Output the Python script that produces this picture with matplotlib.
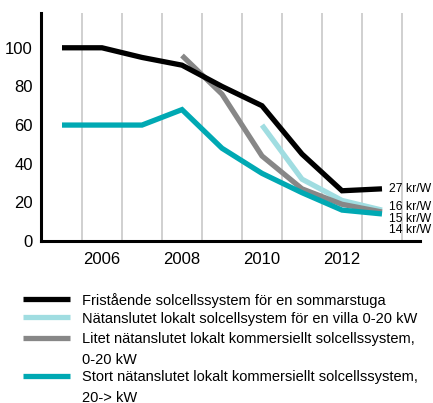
import numpy as np
import matplotlib.pyplot as plt
from matplotlib.lines import Line2D

plt.rcParams['font.family'] = ['Liberation Sans', 'DejaVu Sans']

# prices in kr/W per year
years_fri = [2005, 2006, 2007, 2008, 2009, 2010, 2011, 2012, 2013]
fri = [100, 100, 95, 91, 80, 70, 45, 26, 27]

years_villa = [2010, 2011, 2012, 2013]
villa = [60, 32, 21, 16]

years_litet = [2008, 2009, 2010, 2011, 2012, 2013]
litet = [96, 76, 44, 27, 19, 15]

years_stort = [2005, 2006, 2007, 2008, 2009, 2010, 2011, 2012, 2013]
stort = [60, 60, 60, 68, 48, 35, 25, 16, 14]

end_labels = ['27 kr/W', '16 kr/W', '15 kr/W', '14 kr/W']
end_label_y = [27, 17.5, 11.5, 5.5]

legend_labels = [
    'Fristående solcellssystem för en sommarstuga',
    'Nätanslutet lokalt solcellsystem för en villa 0-20 kW',
    'Litet nätanslutet lokalt kommersiellt solcellssystem,\n0-20 kW',
    'Stort nätanslutet lokalt kommersiellt solcellssystem,\n20-> kW',
]

c_black = '#000000'
c_light = '#a0dde1'
c_gray = '#878787'
c_teal = '#00a9b3'

W, H = 433, 403
fig = plt.figure(figsize=(W / 100, H / 100), dpi=100)
ax = fig.add_axes([41 / W, (H - 241) / H, (420 - 41) / W, (241 - 13) / H])

for x in np.arange(2005.5, 2014, 1.0):
    ax.axvline(x, color='#c8c8c8', lw=1.2, zorder=0)

lw = 3.8
kw = dict(solid_capstyle='butt', solid_joinstyle='miter')
ax.plot(years_fri, fri, color=c_black, lw=lw, zorder=5, **kw)
ax.plot(years_litet, litet, color=c_gray, lw=lw, zorder=3, **kw)
ax.plot(years_villa, villa, color=c_light, lw=lw, zorder=2, **kw)
ax.plot(years_stort, stort, color=c_teal, lw=lw, zorder=4, **kw)

for lab, y in zip(end_labels, end_label_y):
    ax.text(2013.17, y, lab, fontsize=8.8, va='center', ha='left', zorder=6)

ax.set_xlim(2004.475, 2013.95)
ax.set_ylim(0, 118)
ax.set_xticks([2006, 2008, 2010, 2012])
ax.set_yticks([0, 20, 40, 60, 80, 100])
ax.tick_params(length=0, labelsize=12)
ax.tick_params(axis='x', pad=8)
ax.tick_params(axis='y', pad=6)
for s in ['top', 'right']:
    ax.spines[s].set_visible(False)
for s in ['left', 'bottom']:
    ax.spines[s].set_linewidth(2.2)

# legend drawn in pixel-like coordinates below the chart
lax = fig.add_axes([0, 0, 1, 1], facecolor='none')
lax.set_xlim(0, W)
lax.set_ylim(H, 0)
lax.axis('off')
leg_colors = [c_black, c_light, c_gray, c_teal]
leg_y = [299, 317, 338, 376]
for col, y, lab in zip(leg_colors, leg_y, legend_labels):
    lax.add_line(Line2D([23, 70], [y, y], color=col, lw=3.8, solid_capstyle='butt'))
    for i, line in enumerate(lab.split('\n')):
        lax.text(82, y + 1.5 + i * 20, line, fontsize=10.5, va='center', ha='left')

fig.savefig('out.png', dpi=100)
